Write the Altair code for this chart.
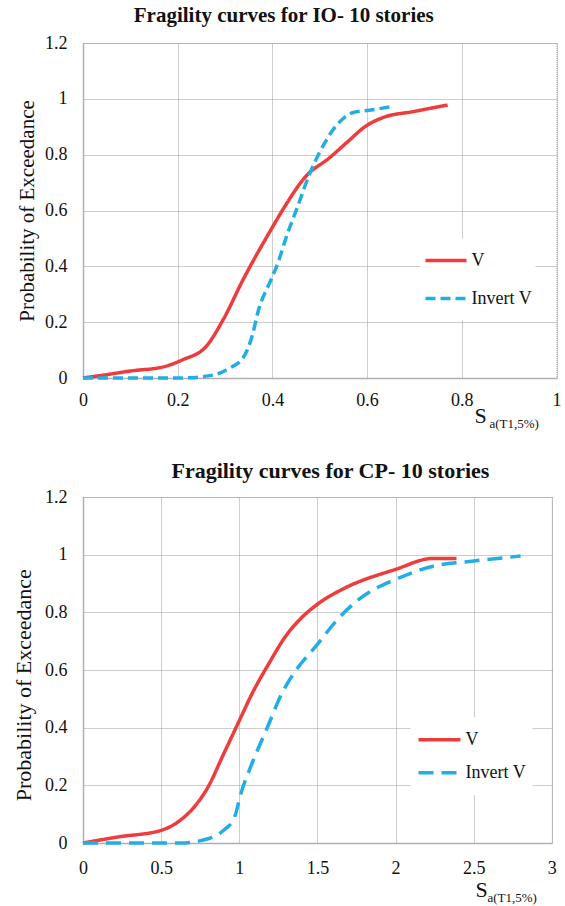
import altair as alt
import pandas as pd

SERIF = "Liberation Serif"
RED = "#EE3B3B"
BLUE = "#22AEE4"
SERIES = ["V", "Invert V"]

# ---- IO - 10 stories ----
IO_V_X = [0, 0.05, 0.1, 0.17, 0.21, 0.26, 0.296, 0.338, 0.4, 0.422, 0.471, 0.52, 0.56, 0.597, 0.632, 0.7, 0.77]
IO_V_Y = [0, 0.012, 0.025, 0.04, 0.065, 0.113, 0.209, 0.352, 0.54, 0.603, 0.723, 0.788, 0.848, 0.902, 0.932, 0.955, 0.978]
IO_IV_X = [0, 0.1, 0.2, 0.24, 0.258, 0.29, 0.31, 0.338, 0.359, 0.369, 0.397, 0.409, 0.432, 0.4535, 0.478, 0.499, 0.534, 0.569, 0.604, 0.652]
IO_IV_Y = [0, 0, 0, 0.002, 0.006, 0.018, 0.036, 0.072, 0.161, 0.233, 0.352, 0.4, 0.518, 0.615, 0.729, 0.806, 0.902, 0.95, 0.959, 0.972]

# ---- CP - 10 stories ----
CP_V_X = [0, 0.225, 0.5, 0.62, 0.71, 0.8, 0.9, 1.0, 1.08, 1.2, 1.29, 1.4, 1.5, 1.66, 2.0, 2.24, 2.39]
CP_V_Y = [0, 0.021, 0.044, 0.078, 0.124, 0.194, 0.309, 0.424, 0.516, 0.632, 0.712, 0.782, 0.828, 0.88, 0.949, 0.987, 0.987]
CP_IV_X = [0, 0.3, 0.62, 0.76, 0.9, 0.97, 1.01, 1.08, 1.18, 1.27, 1.36, 1.5, 1.62, 1.78, 2.0, 2.24, 2.5, 2.8]
CP_IV_Y = [0, 0, 0, 0.009, 0.044, 0.09, 0.171, 0.274, 0.401, 0.516, 0.597, 0.689, 0.77, 0.851, 0.914, 0.96, 0.978, 0.995]

Y_TICKS = [0, 0.2, 0.4, 0.6, 0.8, 1.0, 1.2]
IO_X_TICKS = [0, 0.2, 0.4, 0.6, 0.8, 1.0]
CP_X_TICKS = [0, 0.5, 1.0, 1.5, 2.0, 2.5, 3.0]

TITLE_IO = "Fragility curves for IO- 10 stories"
TITLE_CP = "Fragility curves for CP- 10 stories"
Y_TITLE = "Probability of Exceedance"
X_MAIN = ["S"]
X_SUB = ["a(T1,5%)"]


def frame(vx, vy, ix, iy):
    a = pd.DataFrame({"x": vx, "y": vy, "series": "V"})
    b = pd.DataFrame({"x": ix, "y": iy, "series": "Invert V"})
    return pd.concat([a, b], ignore_index=True)


def panel(df, title, tfs, tdx, toff, xmax, xticks, w, h, dash, ytfs, ytx, yty, xlabpad,
          lx, ly, lpad, symsize, cliph, spos, subpos):
    legend = alt.Legend(
        orient="none", legendX=lx, legendY=ly, title=None,
        symbolType="stroke", symbolSize=symsize, symbolStrokeWidth=3.5,
        labelFont=SERIF, labelFontSize=18, labelColor="#111", labelOffset=3,
        fillColor="white", padding=lpad, clipHeight=cliph, rowPadding=0,
    )
    lines = alt.Chart(df).mark_line(strokeWidth=3.5, interpolate="monotone").encode(
        x=alt.X("x:Q", scale=alt.Scale(domain=[0, xmax], nice=False),
                axis=alt.Axis(values=xticks, title=None, format="~g", labelPadding=xlabpad,
                              labelFlush=False, labelOverlap=False)),
        y=alt.Y("y:Q", scale=alt.Scale(domain=[0, 1.2], nice=False),
                axis=alt.Axis(values=Y_TICKS, title=Y_TITLE, format="~g", labelPadding=16,
                              titleX=ytx, titleY=yty, titleBaseline="middle", titleAngle=270,
                              titleAlign="center", titleFontSize=ytfs)),
        color=alt.Color("series:N", scale=alt.Scale(domain=SERIES, range=[RED, BLUE]), legend=legend),
        strokeDash=alt.StrokeDash("series:N", scale=alt.Scale(domain=SERIES, range=[[1, 0], dash]),
                                  legend=legend),
    )
    s = alt.Chart(pd.DataFrame({"t": X_MAIN})).mark_text(
        align="left", baseline="alphabetic", font=SERIF, fontSize=22, color="#111"
    ).encode(x=alt.value(spos[0]), y=alt.value(spos[1]), text="t:N")
    sub = alt.Chart(pd.DataFrame({"t": X_SUB})).mark_text(
        align="left", baseline="alphabetic", font=SERIF, fontSize=13, color="#111"
    ).encode(x=alt.value(subpos[0]), y=alt.value(subpos[1]), text="t:N")
    return alt.layer(lines, s, sub).properties(
        width=w, height=h,
        title=alt.TitleParams(title, font=SERIF, fontSize=tfs, fontWeight="bold", anchor="middle",
                              dx=tdx, offset=toff, color="#111"),
    )


top = panel(frame(IO_V_X, IO_V_Y, IO_IV_X, IO_IV_Y), TITLE_IO, 21, -36, 8, 1.0, IO_X_TICKS,
            473.5, 335, [10, 5], 21, -55.5, 167.5, 13,
            337.5, 195.5, 3, 1681, 38, (391.5, 380), (406.5, 385))
bottom = panel(frame(CP_V_X, CP_V_Y, CP_IV_X, CP_IV_Y), TITLE_CP, 22, 13, 5, 3.0, CP_X_TICKS,
               468.8, 346, [15, 8], 22, -59.9, 187.7, 16,
               327.5, 220.2, 6, 1764, 33, (392.5, 399.7), (404.5, 404.7))

chart = alt.vconcat(top, bottom, spacing=119, bounds="flush").resolve_scale(
    color="independent", strokeDash="independent"
).resolve_legend(
    color="independent", strokeDash="independent"
).properties(
    padding={"left": 11, "top": 4, "right": 0, "bottom": 0}
).configure_view(
    stroke="#a6a6a6", strokeDash=[1, 1], strokeWidth=1
).configure_axis(
    gridColor="#9a9a9a", gridDash=[1, 1], gridWidth=1,
    domainColor="#b0b0b0", domainWidth=1.5, ticks=False,
    labelFont=SERIF, labelFontSize=18, labelColor="#111",
    titleFont=SERIF, titleFontSize=21, titleFontWeight="normal", titleColor="#111",
)

chart.save("out.html", embed_options={"renderer": "svg", "actions": False})
